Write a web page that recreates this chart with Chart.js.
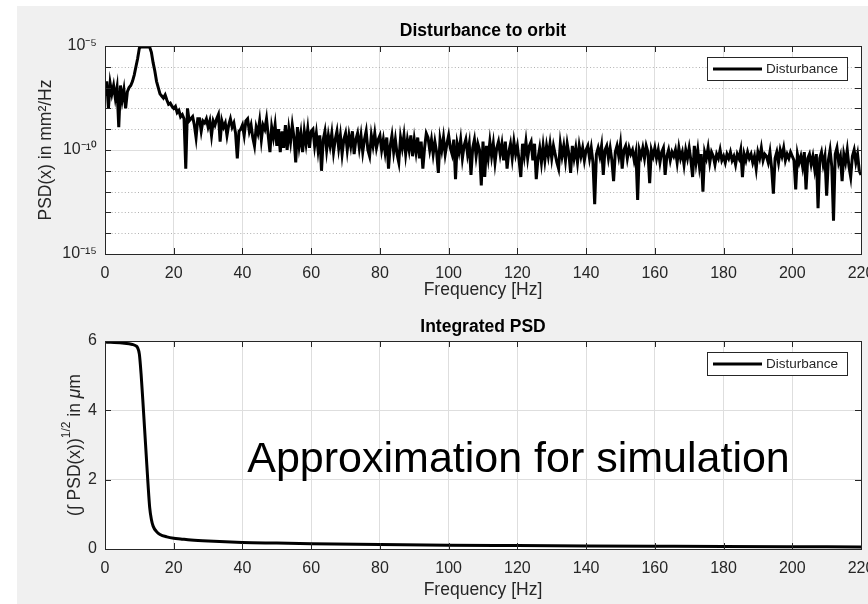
<!DOCTYPE html>
<html lang="en">
  <head>
    <meta charset="UTF-8" />
    <title>Disturbance to orbit</title>
    <script src="https://cdn.jsdelivr.net/npm/chart.js@4.4.0/dist/chart.umd.min.js"></script>
    <style>
      body { margin: 0; background: #fff; }
      .panel {
        position: absolute; left: 17px; top: 6px;
        width: 851px; height: 598px; background: #f0f0f0;
      }
      .panel canvas { position: absolute; left: 0; }
    </style>
  </head>
  <body>
    <div class="panel">
      <canvas id="psdChart" width="851" height="300" style="top: 0"></canvas>
      <canvas id="intChart" width="851" height="298" style="top: 300px"></canvas>
    </div>

    <script>
      // PSD of the disturbance, stored as log10(value), one point every 0.5 Hz (0 .. 220 Hz)
      const psdStep = 0.5;
      const psdExp = [
        -7.4,-6.7,-8.0,-6.8,-7.3,-6.9,-7.5,-7.0,-8.9,-6.9,-7.6,-7.1,-8.0,-7.2,-7.0,-6.9,-6.7,-6.4,-6.0,-5.6,
        -5.1,-5.05,-5.05,-5.05,-5.05,-5.05,-5.05,-5.3,-5.8,-6.2,-6.7,-7.0,-7.3,-7.4,-7.5,-7.35,-7.6,-7.8,-7.75,-7.9,
        -8.0,-7.9,-8.2,-8.1,-8.4,-8.3,-8.5,-10.9,-8.0,-8.6,-8.5,-8.4,-8.8,-9.4,-8.5,-8.5,-9.1,-8.6,-8.7,-8.5,
        -8.9,-8.6,-9.3,-8.6,-8.8,-8.5,-8.3,-9.6,-8.6,-8.9,-8.7,-9.3,-8.8,-8.5,-8.9,-8.7,-9.2,-10.4,-9.1,-9.0,
        -8.8,-9.3,-8.6,-8.5,-9.1,-8.8,-9.4,-9.8,-8.9,-9.2,-8.6,-9.5,-8.8,-9.0,-8.5,-9.3,-10.1,-8.9,-9.4,-8.8,
        -9.8,-9.0,-10.1,-9.1,-9.9,-8.8,-10.0,-9.0,-9.6,-8.8,-9.4,-10.6,-8.9,-9.8,-9.2,-10.1,-9.1,-9.7,-9.0,-9.9,
        -9.1,-9.0,-9.8,-9.2,-10.0,-9.3,-11.0,-9.5,-9.1,-10.0,-9.3,-9.8,-9.2,-10.1,-9.5,-9.1,-9.9,-9.3,-10.2,-9.5,
        -9.2,-10.0,-9.3,-9.8,-9.1,-10.2,-9.5,-9.2,-9.9,-9.3,-10.1,-9.5,-9.1,-10.0,-10.3,-9.3,-9.8,-9.2,-9.9,-9.5,
        -9.3,-10.0,-9.5,-10.1,-9.4,-10.9,-9.8,-9.3,-10.1,-9.5,-10.2,-10.6,-9.4,-9.9,-9.3,-10.2,-9.5,-10.0,-9.3,-10.3,
        -9.5,-10.1,-9.4,-10.4,-9.6,-10.9,-9.9,-9.2,-9.4,-10.0,-9.5,-10.2,-9.6,-10.1,-11.1,-9.5,-10.0,-9.4,-10.2,-9.7,
        -9.3,-9.9,-10.2,-9.5,-11.4,-9.7,-10.1,-9.5,-10.4,-9.8,-9.5,-10.2,-9.7,-11.2,-9.9,-9.5,-10.3,-9.7,-10.0,-11.7,
        -9.6,-11.3,-9.8,-10.4,-9.6,-10.3,-9.7,-10.6,-9.9,-9.6,-10.2,-9.7,-10.5,-9.6,-10.9,-10.1,-9.7,-10.4,-9.6,-10.2,
        -9.8,-10.5,-11.3,-9.7,-10.3,-9.6,-10.4,-9.8,-9.6,-10.5,-9.7,-11.4,-10.4,-9.9,-10.6,-9.8,-10.5,-9.8,-10.3,-9.7,
        -10.4,-9.8,-10.2,-10.6,-10.9,-9.7,-10.3,-9.8,-10.5,-9.7,-10.2,-11.1,-9.8,-10.4,-9.9,-10.6,-9.8,-10.3,-9.9,-10.5,
        -10.0,-9.8,-10.4,-9.9,-10.6,-12.6,-10.2,-9.9,-10.3,-9.8,-11.2,-10.0,-9.8,-10.4,-9.9,-10.5,-11.5,-10.1,-9.8,-10.3,
        -9.7,-10.9,-10.0,-9.8,-10.4,-9.9,-10.2,-10.0,-10.5,-10.1,-12.4,-10.0,-10.3,-9.9,-10.4,-9.8,-10.1,-11.6,-10.0,-10.3,
        -9.9,-10.4,-10.0,-10.6,-10.1,-9.9,-11.2,-10.3,-10.0,-10.5,-10.1,-10.3,-10.0,-10.6,-9.9,-10.4,-10.1,-10.7,-10.0,-10.4,
        -9.9,-10.5,-11.3,-9.8,-10.6,-10.0,-10.8,-10.2,-12.0,-10.1,-10.4,-9.9,-10.6,-10.1,-10.3,-10.7,-10.2,-10.4,-10.0,-10.5,
        -10.3,-10.6,-10.2,-10.4,-10.1,-10.5,-10.3,-10.7,-10.2,-10.4,-10.0,-11.3,-10.2,-10.5,-10.1,-10.4,-10.2,-10.6,-10.3,-10.9,
        -10.1,-10.4,-9.9,-10.5,-10.2,-10.3,-10.6,-10.1,-10.9,-12.1,-10.4,-10.1,-10.6,-10.0,-10.3,-9.9,-10.5,-10.2,-10.4,-10.1,
        -10.3,-10.5,-11.9,-10.2,-10.6,-10.3,-10.8,-10.1,-11.9,-10.4,-10.2,-10.7,-10.3,-10.9,-10.2,-12.8,-10.4,-10.1,-10.7,-10.3,
        -12.2,-10.5,-10.0,-10.8,-13.4,-10.2,-9.9,-10.6,-10.3,-11.5,-10.2,-10.6,-10.0,-10.8,-11.3,-10.3,-10.0,-10.6,-10.2,-11.0,
        -11.2
      ];

      // integrated PSD (um)
      const intFreq = [0, 5, 8, 9, 9.5, 10, 10.5, 11, 11.5, 12, 12.5, 13, 13.5, 14, 15, 16, 18, 20, 22, 25, 30, 40, 50, 60, 80, 100, 120, 140, 160, 180, 200, 220];
      const intVal = [5.97, 5.94, 5.9, 5.86, 5.8, 5.62, 5.05, 4.3, 3.5, 2.7, 1.9, 1.2, 0.85, 0.66, 0.5, 0.42, 0.35, 0.31, 0.29, 0.26, 0.23, 0.19, 0.17, 0.15, 0.13, 0.11, 0.1, 0.09, 0.08, 0.07, 0.065, 0.06];

      // axes
      const xTicks = [0, 20, 40, 60, 80, 100, 120, 140, 160, 180, 200, 220];
      const psdDecades = [-15, -14, -13, -12, -11, -10, -9, -8, -7, -6, -5];
      const psdMajorExp = [-15, -10, -5];
      const psdMajorLabels = ["10⁻¹⁵", "10⁻¹⁰", "10⁻⁵"];
      const intTicks = [0, 2, 4, 6];

      const seriesName = "Disturbance";
      const noteText = "Approximation for simulation";
      const noteAt = [41.4, 2.23];

      const fontFamily = 'Arial, "Liberation Sans", Helvetica, sans-serif';
      const axisColor = "#262626";
      const gridColor = "#dedede";

      Chart.defaults.font.family = fontFamily;
      Chart.defaults.color = axisColor;

      const isMajor = (v) => psdMajorExp.includes(Math.round(Math.log10(v)));

      // MATLAB style decorations: white box, dotted minor grid, inward ticks, title, legend
      function matlabAxes(opts) {
        return {
          id: "matlabAxes",
          beforeDraw(chart) {
            const a = chart.chartArea, ctx = chart.ctx;
            ctx.save();
            ctx.fillStyle = "#fff";
            ctx.fillRect(a.left, a.top, a.right - a.left, a.bottom - a.top);
            ctx.restore();
          },
          beforeDatasetsDraw(chart) {
            if (!opts.minorY) return;
            const a = chart.chartArea, ctx = chart.ctx, ys = chart.scales.y;
            ctx.save();
            ctx.strokeStyle = "#b0b0b0";
            ctx.lineWidth = 1;
            ctx.setLineDash([1, 2.3]);
            opts.minorY.forEach((v) => {
              const py = Math.round(ys.getPixelForValue(v)) + 0.5;
              ctx.beginPath();
              ctx.moveTo(a.left, py);
              ctx.lineTo(a.right, py);
              ctx.stroke();
            });
            ctx.restore();
          },
          afterDraw(chart) {
            const a = chart.chartArea, ctx = chart.ctx;
            const xs = chart.scales.x, ys = chart.scales.y;
            ctx.save();

            // box + ticks
            ctx.strokeStyle = axisColor;
            ctx.lineWidth = 1;
            ctx.strokeRect(Math.round(a.left) + 0.5, Math.round(a.top) + 0.5,
              Math.round(a.right - a.left), Math.round(a.bottom - a.top));
            ctx.beginPath();
            xs.ticks.forEach((t) => {
              const px = Math.round(xs.getPixelForValue(t.value)) + 0.5;
              ctx.moveTo(px, a.bottom); ctx.lineTo(px, a.bottom - 6);
              ctx.moveTo(px, a.top); ctx.lineTo(px, a.top + 6);
            });
            ys.ticks.forEach((t) => {
              const py = Math.round(ys.getPixelForValue(t.value)) + 0.5;
              ctx.moveTo(a.left, py); ctx.lineTo(a.left + 6, py);
              ctx.moveTo(a.right, py); ctx.lineTo(a.right - 6, py);
            });
            ctx.stroke();

            // title
            ctx.fillStyle = "#000";
            ctx.font = "bold 17.5px " + fontFamily;
            ctx.textAlign = "center";
            ctx.textBaseline = "middle";
            ctx.fillText(opts.title, (a.left + a.right) / 2, opts.titleY);

            // y label with superscript (bottom plot)
            if (opts.yLabelParts) {
              ctx.save();
              ctx.translate(opts.yLabelX, (a.top + a.bottom) / 2);
              ctx.rotate(-Math.PI / 2);
              ctx.fillStyle = axisColor;
              ctx.textAlign = "left";
              let total = 0;
              opts.yLabelParts.forEach((p) => { ctx.font = p.font; total += ctx.measureText(p.text).width; });
              let x = -total / 2;
              opts.yLabelParts.forEach((p) => {
                ctx.font = p.font;
                ctx.fillText(p.text, x, p.dy);
                x += ctx.measureText(p.text).width;
              });
              ctx.restore();
            }

            // legend
            const ds = chart.data.datasets[0];
            const lw = 140, lh = 23;
            const lx = Math.round(a.right) - 14 - lw, ly = Math.round(a.top) + 11;
            ctx.fillStyle = "#fff";
            ctx.fillRect(lx, ly, lw, lh);
            ctx.strokeStyle = axisColor;
            ctx.lineWidth = 1;
            ctx.strokeRect(lx + 0.5, ly + 0.5, lw, lh);
            ctx.strokeStyle = ds.borderColor;
            ctx.lineWidth = 3;
            ctx.beginPath();
            ctx.moveTo(lx + 6, ly + lh / 2 + 0.5);
            ctx.lineTo(lx + 55, ly + lh / 2 + 0.5);
            ctx.stroke();
            ctx.fillStyle = axisColor;
            ctx.font = "13.5px " + fontFamily;
            ctx.textAlign = "left";
            ctx.fillText(ds.label, lx + 59, ly + lh / 2 + 1);

            // annotation
            if (opts.note) {
              ctx.fillStyle = "#000";
              ctx.font = "43px " + fontFamily;
              ctx.textAlign = "left";
              ctx.textBaseline = "alphabetic";
              ctx.fillText(opts.note, xs.getPixelForValue(noteAt[0]), ys.getPixelForValue(noteAt[1]));
            }
            ctx.restore();
          },
        };
      }

      function xAxis(height, titlePad) {
        return {
          type: "linear",
          min: 0,
          max: 220,
          afterBuildTicks: (s) => { s.ticks = xTicks.map((v) => ({ value: v })); },
          ticks: { font: { size: 16 }, padding: 10, color: axisColor, maxRotation: 0, autoSkip: false },
          grid: { color: gridColor, drawTicks: false },
          border: { display: false },
          title: {
            display: true, text: "Frequency [Hz]", color: axisColor,
            font: { size: 17.5 }, padding: { top: 0, bottom: titlePad },
          },
          afterFit: (s) => { s.height = height; s.paddingLeft = 0; s.paddingRight = 0; },
        };
      }

      // Disturbance to orbit
      new Chart(document.getElementById("psdChart"), {
        type: "line",
        data: {
          datasets: [{
            label: seriesName,
            data: psdExp.map((e, i) => ({ x: i * psdStep, y: Math.pow(10, e) })),
            borderColor: "#000",
            borderWidth: 3,
            pointRadius: 0,
            tension: 0,
          }],
        },
        options: {
          responsive: false,
          animation: false,
          events: [],
          layout: { padding: { top: 40, right: 7, left: 0, bottom: 0 } },
          plugins: { legend: { display: false }, tooltip: { enabled: false } },
          scales: {
            x: xAxis(52, 5),
            y: {
              type: "logarithmic",
              min: 1e-15,
              max: 1e-5,
              afterBuildTicks: (s) => { s.ticks = psdDecades.map((e) => ({ value: Math.pow(10, e) })); },
              ticks: {
                font: { size: 16 }, padding: 8, color: axisColor, autoSkip: false,
                callback: (v) => {
                  const i = psdMajorExp.indexOf(Math.round(Math.log10(v)));
                  return i >= 0 ? psdMajorLabels[i] : "";
                },
              },
              grid: {
                drawTicks: false,
                color: (c) => (c.tick && isMajor(c.tick.value) ? gridColor : "rgba(0,0,0,0)"),
              },
              border: { display: false },
              title: {
                display: true, text: "PSD(x) in mm²/Hz", color: axisColor,
                font: { size: 17.5 }, padding: { top: 19, bottom: 0 },
              },
              afterFit: (s) => { s.width = 88; s.paddingTop = 0; s.paddingBottom = 0; },
            },
          },
        },
        plugins: [matlabAxes({
          title: "Disturbance to orbit",
          titleY: 25,
          minorY: psdDecades.filter((e) => !psdMajorExp.includes(e)).map((e) => Math.pow(10, e)),
        })],
      });

      // Integrated PSD
      new Chart(document.getElementById("intChart"), {
        type: "line",
        data: {
          datasets: [{
            label: seriesName,
            data: intFreq.map((f, i) => ({ x: f, y: intVal[i] })),
            borderColor: "#000",
            borderWidth: 3,
            pointRadius: 0,
            cubicInterpolationMode: "monotone",
          }],
        },
        options: {
          responsive: false,
          animation: false,
          events: [],
          layout: { padding: { top: 35, right: 7, left: 0, bottom: 0 } },
          plugins: { legend: { display: false }, tooltip: { enabled: false } },
          scales: {
            x: xAxis(55, 3),
            y: {
              type: "linear",
              min: 0,
              max: 6,
              afterBuildTicks: (s) => { s.ticks = intTicks.map((v) => ({ value: v })); },
              ticks: { font: { size: 16 }, padding: 8, color: axisColor },
              grid: { color: gridColor, drawTicks: false },
              border: { display: false },
              afterFit: (s) => { s.width = 88; s.paddingTop = 0; s.paddingBottom = 0; },
            },
          },
        },
        plugins: [matlabAxes({
          title: "Integrated PSD",
          titleY: 21,
          yLabelX: 58,
          yLabelParts: [
            { text: "(∫ PSD(x))", font: "17.5px " + fontFamily, dy: 0 },
            { text: "1/2", font: "12px " + fontFamily, dy: -8 },
            { text: " in ", font: "17.5px " + fontFamily, dy: 0 },
            { text: "μ", font: "italic 17.5px " + fontFamily, dy: 0 },
            { text: "m", font: "17.5px " + fontFamily, dy: 0 },
          ],
          note: noteText,
        })],
      });
    </script>
  </body>
</html>
